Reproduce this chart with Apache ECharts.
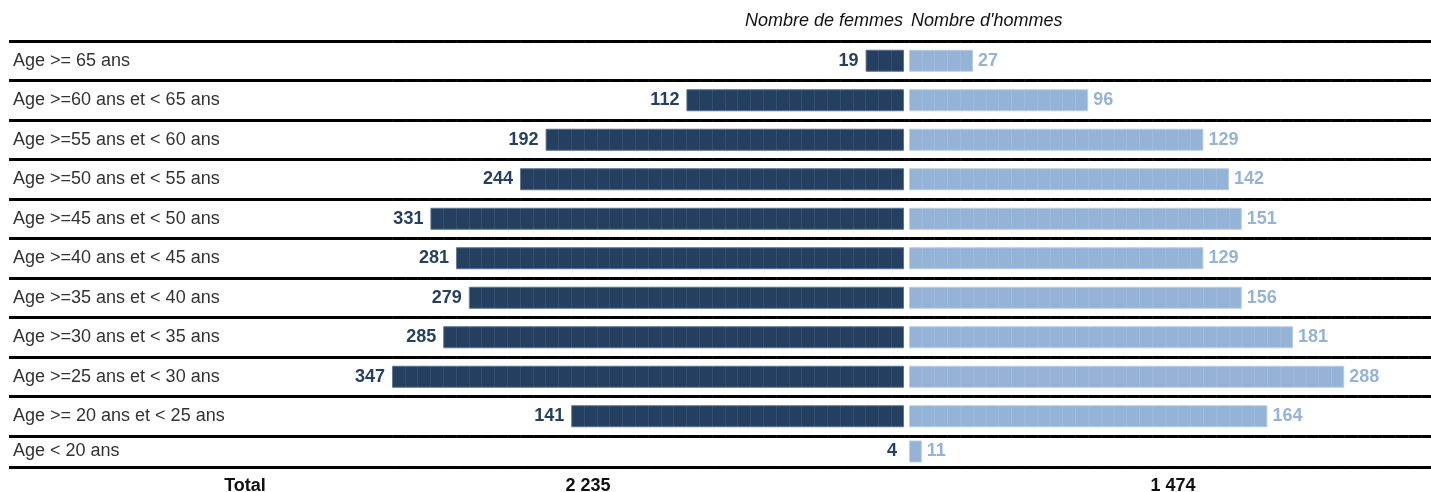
<!DOCTYPE html>
<html>
<head>
<meta charset="utf-8">
<title>Nombre de femmes / hommes par tranche d'âge</title>
<script src="https://cdn.jsdelivr.net/npm/echarts@6/dist/echarts.min.js"></script>
<style>html,body{margin:0;padding:0;background:#fff;}</style>
</head>
<body>
<div id="main" style="width:1431px;height:492px;"></div>
<script type="text/javascript">
// données
var categories = [
    'Age >= 65 ans',
    'Age >=60 ans et < 65 ans',
    'Age >=55 ans et < 60 ans',
    'Age >=50 ans et < 55 ans',
    'Age >=45 ans et < 50 ans',
    'Age >=40 ans et < 45 ans',
    'Age >=35 ans et < 40 ans',
    'Age >=30 ans et < 35 ans',
    'Age >=25 ans et < 30 ans',
    'Age >= 20 ans et < 25 ans',
    'Age < 20 ans'
];
var femmes = [19, 112, 192, 244, 331, 281, 279, 285, 347, 141, 4];
var hommes = [27, 96, 129, 142, 151, 129, 156, 181, 288, 164, 11];
// longueur des barres telle que dessinée sur l'image (en blocs)
var blocsFemmes = [3, 17, 28, 30, 37, 35, 34, 36, 40, 26, 0];
var blocsHommes = [5, 14, 23, 25, 26, 23, 26, 30, 34, 28, 1];
var enTetes = ['Nombre de femmes', "Nombre d'hommes"];
var libelleTotal = 'Total';

var FONT = '"Liberation Sans", Arial, sans-serif';
var BLEU_FONCE = '#243f60';
var BLEU_CLAIR = '#95b3d7';

function somme(arr) {
    return arr.reduce(function (a, b) { return a + b; }, 0);
}
function milliers(n) {
    return String(n).replace(/\B(?=(\d{3})+(?!\d))/g, ' ');
}
// pas de bordure sur une barre vide
function barres(vals) {
    return vals.map(function (v) {
        return v === 0 ? {value: 0, itemStyle: {borderWidth: 0}} : v;
    });
}

var myChart = echarts.init(document.getElementById('main'));

// 10 premières lignes dans un bloc, la dernière (plus basse) dans un autre
var blocs = [
    {top: 41, height: 395, from: 0, to: 10},
    {top: 436, height: 31, from: 10, to: 11}
];

var grid = [], xAxis = [], yAxis = [], series = [];

blocs.forEach(function (b) {
    var cats = categories.slice(b.from, b.to);

    // cadre : libellés + traits de séparation
    var gCadre = grid.length;
    grid.push({left: 9, right: 0, top: b.top, height: b.height});
    xAxis.push({gridIndex: gCadre, type: 'value', show: false});
    yAxis.push({
        gridIndex: gCadre, type: 'category', data: cats, inverse: true,
        axisLine: {show: false}, axisTick: {show: false},
        axisLabel: {inside: true, margin: 4, color: '#333', fontSize: 18, fontFamily: FONT,
                    padding: [6, 0, 0, 0]},
        splitLine: {show: true, lineStyle: {color: '#000', width: 3}}
    });

    // femmes (vers la gauche)
    var gF = grid.length;
    grid.push({left: 392, right: 527, top: b.top, height: b.height});
    xAxis.push({
        gridIndex: gF, type: 'value', inverse: true, min: 0, max: 40, interval: 1, z: 5,
        axisLine: {show: false}, axisTick: {show: false}, axisLabel: {show: false},
        splitLine: {show: true, lineStyle: {color: 'rgba(255,255,255,0.08)', width: 1}}
    });
    yAxis.push({gridIndex: gF, type: 'category', data: cats, inverse: true, show: false});
    series.push({
        type: 'bar', xAxisIndex: gF, yAxisIndex: gF, barWidth: 22,
        data: barres(blocsFemmes.slice(b.from, b.to)),
        itemStyle: {color: BLEU_FONCE, borderColor: '#5a7090', borderWidth: 1},
        label: {
            show: true, position: 'left', distance: 7,
            color: BLEU_FONCE, fontWeight: 'bold', fontSize: 18, fontFamily: FONT,
            formatter: function (p) { return femmes[b.from + p.dataIndex]; }
        },
        silent: true, animation: false
    });

    // hommes (vers la droite)
    var gH = grid.length;
    grid.push({left: 909, right: 10, top: b.top, height: b.height});
    xAxis.push({
        gridIndex: gH, type: 'value', min: 0, max: 40, interval: 1, z: 5,
        axisLine: {show: false}, axisTick: {show: false}, axisLabel: {show: false},
        splitLine: {show: true, lineStyle: {color: 'rgba(255,255,255,0.1)', width: 1}}
    });
    yAxis.push({gridIndex: gH, type: 'category', data: cats, inverse: true, show: false});
    series.push({
        type: 'bar', xAxisIndex: gH, yAxisIndex: gH, barWidth: 22,
        data: barres(blocsHommes.slice(b.from, b.to)),
        itemStyle: {color: BLEU_CLAIR, borderColor: '#b9cce4', borderWidth: 1},
        label: {
            show: true, position: 'right', distance: 5,
            color: BLEU_CLAIR, fontWeight: 'bold', fontSize: 18, fontFamily: FONT,
            formatter: function (p) { return hommes[b.from + p.dataIndex]; }
        },
        silent: true, animation: false
    });
});

function texte(str, x, y, align, font) {
    var style = {text: str, x: x, y: y, align: align, verticalAlign: 'middle', fill: '#111', font: font};
    return {type: 'text', style: style, silent: true};
}

var option = {
    backgroundColor: '#fff',
    animation: false,
    grid: grid,
    xAxis: xAxis,
    yAxis: yAxis,
    series: series,
    graphic: [
        texte(enTetes[0], 903, 21, 'right', 'italic 18px ' + FONT),
        texte(enTetes[1], 911, 21, 'left', 'italic 18px ' + FONT),
        texte(libelleTotal, 245, 486, 'center', 'bold 18px ' + FONT),
        texte(milliers(somme(femmes)), 588, 486, 'center', 'bold 18px ' + FONT),
        texte(milliers(somme(hommes)), 1173, 486, 'center', 'bold 18px ' + FONT)
    ]
};
myChart.setOption(option);
</script>
</body>
</html>
